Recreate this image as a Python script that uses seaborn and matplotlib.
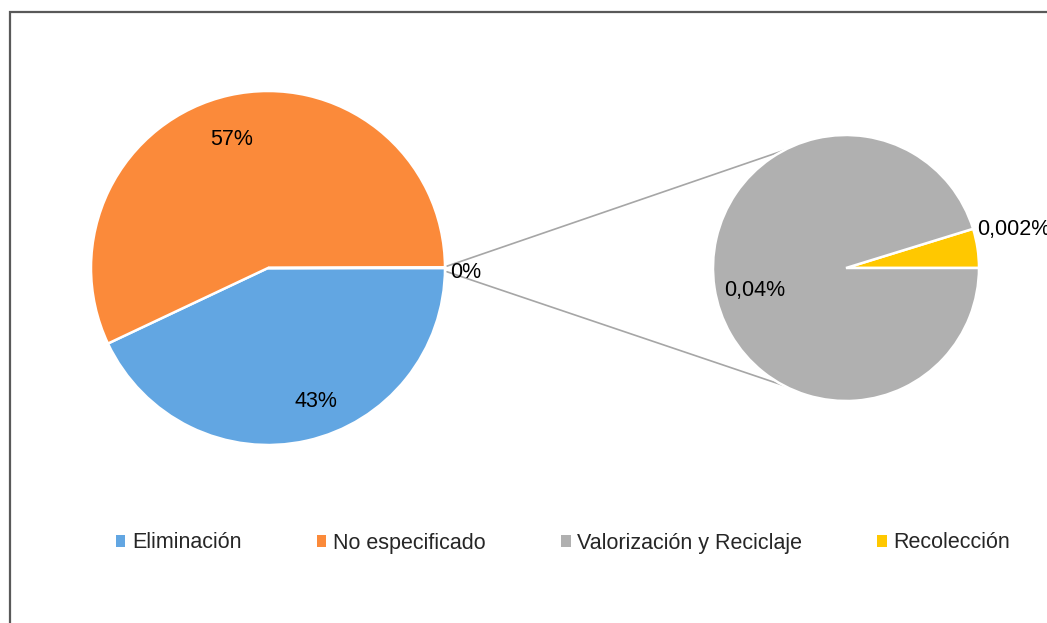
import numpy as np
import matplotlib
matplotlib.use("Agg")
import matplotlib.pyplot as plt
from matplotlib.patches import Patch, Rectangle
import seaborn as sns

# ---- Data -------------------------------------------------------------------
main_labels = ["Eliminación", "No especificado", "Otros"]
main_values = [43.0, 57.0, 0.042]
main_text = ["43%", "57%", "0%"]

sub_labels = ["Recolección", "Valorización y Reciclaje"]
sub_values = [0.002, 0.04]
sub_text = ["0,002%", "0,04%"]

legend_labels = ["Eliminación", "No especificado", "Valorización y Reciclaje", "Recolección"]

# ---- Styling ----------------------------------------------------------------
sns.set_theme(style="white")
plt.rcParams["font.family"] = ["Liberation Sans", "DejaVu Sans"]

BLUE = "#62A6E2"
ORANGE = "#FB8A3A"
GRAY = "#B0B0B0"
YELLOW = "#FFC800"
colors = {"Eliminación": BLUE, "No especificado": ORANGE, "Otros": GRAY,
          "Valorización y Reciclaje": GRAY, "Recolección": YELLOW}

W, H = 1047, 623
fig = plt.figure(figsize=(W / 100, H / 100), dpi=100)
ax = fig.add_axes([0, 0, 1, 1])

main_c, main_r = (268, 355), 177
sub_c, sub_r = (846, 355), 133

wp = {"edgecolor": "white", "linewidth": 1.8}

# main pie: clockwise from 3 o'clock
main_w, _ = ax.pie(main_values, colors=[colors[l] for l in main_labels],
                   startangle=0, counterclock=False, center=main_c,
                   radius=main_r, wedgeprops=wp, frame=True)
# secondary pie ("pie of pie")
sub_w, _ = ax.pie(sub_values, colors=[colors[l] for l in sub_labels],
                  startangle=0, counterclock=True, center=sub_c,
                  radius=sub_r, wedgeprops=wp, frame=True)
ax.set_xlim(0, W)
ax.set_ylim(0, H)
ax.set_aspect("equal")
ax.axis("off")


def polar(c, r, deg):
    t = np.deg2rad(deg)
    return c[0] + r * np.cos(t), c[1] + r * np.sin(t)


# connector lines from the "Otros" slice to the secondary pie
for a_main, a_sub in [(0.6, 118), (-1.2, -118)]:
    x0, y0 = polar(main_c, main_r + 2, a_main)
    x1, y1 = polar(sub_c, sub_r, a_sub)
    ax.plot([x0, x1], [y0, y1], color="#A6A6A6", lw=1.2, zorder=0)

fs = 15.5
# main labels (angle, fraction of radius) as Excel placed them
for txt, (ang, d) in zip(main_text[:2], [(-70.4, 0.80), (105.7, 0.755)]):
    x, y = polar(main_c, main_r * d, ang)
    ax.text(x, y, txt, ha="center", va="center", fontsize=fs, color="black")
ax.text(main_c[0] + main_r + 5, main_c[1] - 5, main_text[2], ha="left",
        va="center", fontsize=fs, color="black")

# secondary labels
x, y = polar(sub_c, sub_r * 0.706, 194)
ax.text(x, y, sub_text[1], ha="center", va="center", fontsize=fs, color="black")
ax.text(sub_c[0] + sub_r - 2, sub_c[1] + 38, sub_text[0], ha="left",
        va="center", fontsize=fs, color="black", clip_on=False)

# legend
handles = [Patch(facecolor=colors[l], edgecolor="none") for l in legend_labels]
fig.legend(handles, legend_labels, loc="center", ncol=4, frameon=False,
           bbox_to_anchor=(563 / W, 1 - 543 / H), fontsize=fs,
           handlelength=0.45, handleheight=0.45, handletextpad=0.3,
           columnspacing=3.5)

# chart-area frame (clipped by the image on the right and bottom)
fig.add_artist(Rectangle((9.5 / W, -0.2), 1.2, 1.2 - 11.5 / H,
                         transform=fig.transFigure, fill=False,
                         edgecolor="#595959", linewidth=1.6))

fig.savefig("out.png", dpi=100, facecolor="white")
